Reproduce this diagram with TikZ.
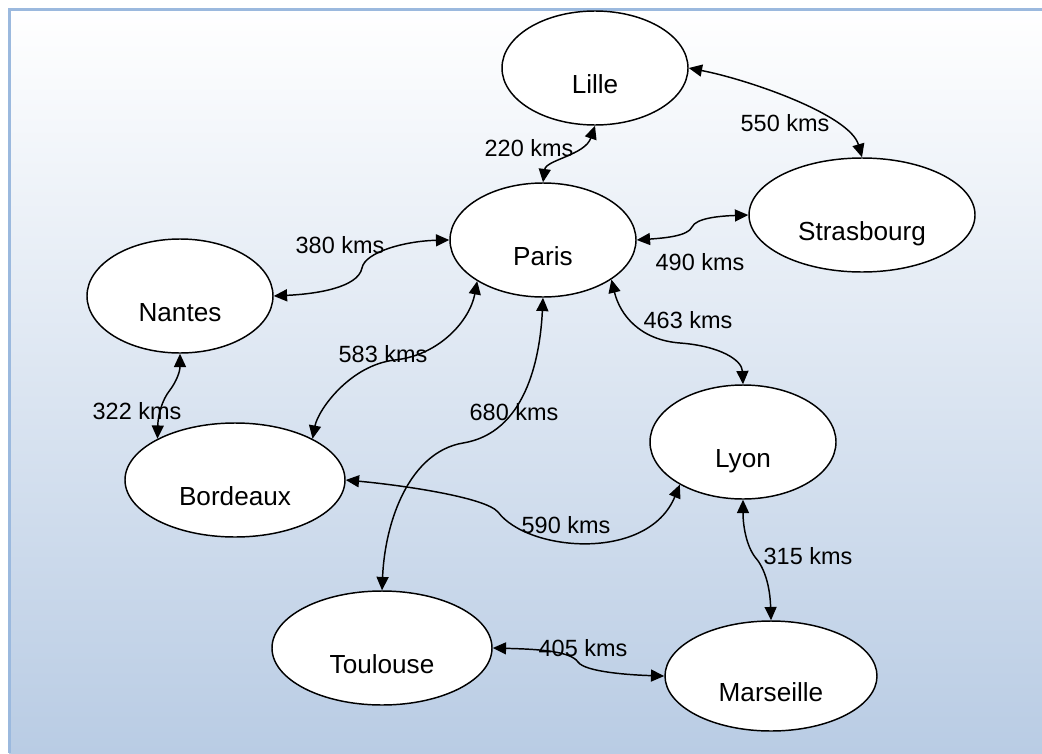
\documentclass[tikz,border=0pt]{standalone}
\usepackage{fontspec}
\setmainfont{Liberation Sans}
\usetikzlibrary{arrows.meta,shapes.geometric}
\definecolor{bgblue}{RGB}{185,204,228}
\definecolor{framecol}{RGB}{155,185,222}
\begin{document}
\begin{tikzpicture}[x=0.75pt,y=0.75pt,
  city/.style={ellipse, draw=black, line width=1.1pt, fill=white, inner sep=0pt,
     minimum width=139.5pt, minimum height=85.5pt,
     font=\fontsize{19.6pt}{22pt}\selectfont, text height=38pt, text depth=0pt},
  dist/.style={font=\fontsize{17.6pt}{20pt}\selectfont, inner sep=0pt},
  road/.style={line width=1.1pt, {Triangle[length=10pt,width=9pt]}-{Triangle[length=10pt,width=9pt]}}
]
\useasboundingbox (0,0) rectangle (1042,-753);
\fill[white] (0,0) rectangle (1042,-753);
\shade[top color=white, bottom color=bgblue] (9,-9) rectangle (1042,-753);
\draw[framecol, line width=2.25pt] (1042,-9.3) -- (9.3,-9.3) -- (9.3,-753);

\node[city] (lille) at (595,-68) {Lille};
\node[city, minimum width=169.5pt] (strasbourg) at (862,-215) {Strasbourg};
\node[city] (paris) at (543,-240) {Paris};
\node[city] (nantes) at (180,-296) {Nantes};
\node[city, minimum width=165pt] (bordeaux) at (235,-480) {Bordeaux};
\node[city] (lyon) at (743,-442) {Lyon};
\node[city, minimum width=165pt] (toulouse) at (382,-648) {Toulouse};
\node[city, minimum width=159pt, minimum height=82.5pt] (marseille) at (771,-676) {Marseille};

\draw[road] (paris.north) .. controls (546,-160) and (585,-155) .. (lille.south);
\draw[road] (lille.east) .. controls (750,-80) and (850,-115) .. (strasbourg.north);
\draw[road] (paris.east) .. controls (665,-238) and (688,-236) .. (692,-227) .. controls (696,-218) and (720,-216) .. (strasbourg.west);
\draw[road] (nantes.east) .. controls (315,-294) and (358,-288) .. (362,-268) .. controls (365,-252) and (405,-241) .. (paris.west);
\draw[road] (bordeaux.28) .. controls (318,-410) and (350,-365) .. (395,-360) .. controls (440,-355) and (470,-320) .. (paris.212);
\draw[road] (paris.south) .. controls (540,-360) and (525,-433) .. (463,-443) .. controls (410,-452) and (385,-520) .. (toulouse.north);
\draw[road] (paris.330) .. controls (620,-315) and (640,-340) .. (680,-343) .. controls (720,-346) and (742,-360) .. (lyon.north);
\draw[road] (nantes.south) .. controls (180,-372) and (176,-382) .. (170,-390) .. controls (162,-400) and (158,-415) .. (bordeaux.152);
\draw[road] (bordeaux.east) .. controls (400,-485) and (485,-497) .. (498,-512) .. controls (528,-552) and (648,-562) .. (lyon.214);
\draw[road] (lyon.south) .. controls (743,-525) and (746,-545) .. (755,-557) .. controls (764,-567) and (770,-585) .. (marseille.north);
\draw[road] (toulouse.east) .. controls (530,-649) and (570,-650) .. (578,-662) .. controls (585,-672) and (630,-675) .. (marseille.west);

\node[dist] (d220) at (529,-148) {220 kms};
\node[dist] (d550) at (785,-123) {550 kms};
\node[dist] (d490) at (700,-262) {490 kms};
\node[dist] (d380) at (340,-245) {380 kms};
\node[dist] (d583) at (383,-354) {583 kms};
\node[dist] (d680) at (514,-412) {680 kms};
\node[dist] (d463) at (688,-320) {463 kms};
\node[dist] (d322) at (137,-411) {322 kms};
\node[dist] (d590) at (566,-525) {590 kms};
\node[dist] (d315) at (808,-556) {315 kms};
\node[dist] (d405) at (583,-648) {405 kms};
\end{tikzpicture}
\end{document}
